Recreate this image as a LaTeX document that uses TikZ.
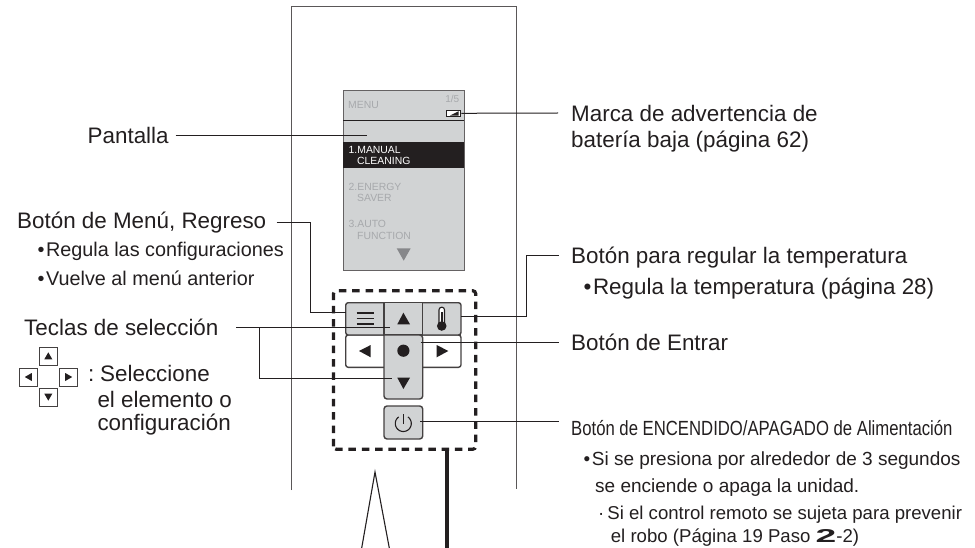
\documentclass[tikz,border=0pt]{standalone}
\usepackage{graphicx}
\usepackage{fontspec}
\setmainfont{Liberation Sans}
\definecolor{ink}{HTML}{231F20}
\definecolor{panel}{HTML}{D1D3D4}
\definecolor{lcdgrey}{HTML}{A7A9AC}
\tikzset{
 lead/.style={draw=ink,line width=1pt},
 outline/.style={draw=ink!75,line width=1pt},
 btn/.style={draw=ink!85,line width=1.4pt,fill=panel,rounded corners=2.5pt},
 lab/.style={anchor=west,inner sep=0pt,text=ink,font=\fontsize{22.4}{26}\selectfont,align=left},
 sub/.style={anchor=west,inner sep=0pt,text=ink,font=\fontsize{19.8}{24}\selectfont,align=left},
 sm/.style={anchor=west,inner sep=0pt,text=ink,font=\fontsize{18.6}{22}\selectfont,align=left},
 lcd/.style={anchor=west,inner sep=0pt,text=lcdgrey,font=\fontsize{10.4}{11.4}\selectfont,align=left},
 key/.style={draw=ink!85,line width=1pt,fill=white,minimum size=18pt,inner sep=0pt},
}
\begin{document}
\begin{tikzpicture}[x=1pt,y=-1pt]
\useasboundingbox (0,0) rectangle (975,548);
\fill[white] (0,0) rectangle (975,548);
% housing
\coordinate (hbl) at (291,490); \coordinate (htl) at (291,7); \coordinate (htr) at (516,7); \coordinate (hbr) at (516,489);
\draw[outline] (hbl) -- (htl) -- (htr) -- (hbr);
\coordinate (tl) at (361.7,548); \coordinate (ta) at (375,472); \coordinate (tr) at (389.3,548);
\draw[draw=ink,line width=1.1pt] (tl) -- (ta) -- (tr);
% LCD
\node[draw=ink!70,fill=panel,line width=0.9pt,minimum width=120.7pt,minimum height=180pt,inner sep=0pt,anchor=north west] (lcd) at (343.3,90.3) {};
\draw[ink,line width=0.9pt] (343.3,120.7) -- (464,120.7);
\fill[ink] (343.3,142) rectangle (464,168);
\node[lcd] (mn) at (348,105) {MENU};
\node[lcd,anchor=east,font=\fontsize{10}{10}\selectfont] (pg) at (459.5,99.3) {1/5};
\node[lcd,text=white] (m1) at (348.5,155.5) {1.MANUAL\\\hspace*{8.5pt}CLEANING};
\node[lcd] (m2) at (348.5,192.5) {2.ENERGY\\\hspace*{8.5pt}SAVER};
\node[lcd] (m3) at (348.5,230) {3.AUTO\\\hspace*{8.5pt}FUNCTION};
\fill[lcdgrey!80!black] (396.7,248.3) -- (410.7,248.3) -- (403.7,260.7) -- cycle;
\node[draw=ink,line width=1.1pt,fill=white,minimum width=14pt,minimum height=6.4pt,inner sep=0pt] (bat) at (453.7,113.3) {};
\fill[ink] (445.6,111.6) rectangle (447,115);
\fill[ink] (450,115.6) -- (458.6,115.6) -- (458.6,111.2) -- cycle;
% dashed box
\draw[ink,line width=3.2pt,dash pattern=on 7.5pt off 5.8pt,rounded corners=3pt] (333.5,449.3) -- (333.5,290.7) -- (475.7,290.7) -- (475.7,449.3) -- cycle;
\coordinate (cbtop) at (446.7,449.3); \coordinate (cbbot) at (446.7,548);
\draw[ink,line width=4.4pt] (cbtop) -- (cbbot);
% buttons
\path[btn,fill=white,draw] (345.7,335) -- (345.7,367.3) -- (461,367.3) -- (461,335) -- cycle;
\draw[btn] (345.7,335) -- (345.7,302.7) -- (461,302.7) -- (461,335) -- cycle;
\draw[btn,sharp corners] (384,302.7) rectangle (422.7,335);
\draw[btn,rounded corners=3pt] (384,335) -- (384,399) -- (422.7,399) -- (422.7,335) [sharp corners] -- cycle;
\draw[btn,rounded corners=3pt] (384,406) rectangle (422.7,439);
\foreach \yy in {312.7,318.4,324.3}{\draw[ink,line width=1.7pt] (356.7,\yy) -- (374,\yy);}
\fill[ink] (403.4,312.7) -- (397.3,324.3) -- (410,324.3) -- cycle;
\fill[ink] (359,351) -- (370.7,345) -- (370.7,357.3) -- cycle;
\fill[ink] (448.3,351) -- (436.7,345) -- (436.7,357.3) -- cycle;
\fill[ink] (403.4,350.7) circle (6.1);
\fill[ink] (403.4,389) -- (397.3,377.7) -- (410,377.7) -- cycle;
% thermometer
\draw[ink,line width=1.1pt,fill=white,rounded corners=2.6pt] (439,324) -- (439,307.2) -- (444.5,307.2) -- (444.5,324);
\fill[ink] (441.75,326) circle (4.8);
\fill[ink] (440.6,312) rectangle (442.9,323);
% power icon
\draw[ink,line width=1.1pt] plot[domain=35:325,samples=40] ({403.3+8*sin(\x)},{423.5-8*cos(\x)});
\draw[ink,line width=1.1pt] (403.3,414.3) -- (403.3,423.5);
% labels
\node[lab] (pan) at (87.5,135) {Pantalla};
\node[lab] (men) at (17,223) {Botón de Menú, Regreso};
\node[sub] (m1b) at (37.5,251.7) {•\hspace{1.5pt}Regula las configuraciones};
\node[sub] (m2b) at (37.5,278) {•\hspace{1.5pt}Vuelve al menú anterior};
\node[lab] (tec) at (24,327) {Teclas de selección};
\node[lab] (col) at (88,375.2) {:};
\node[lab] (sel) at (100,373) {Seleccione};
\node[lab] (sel2) at (97.3,399.5) {el elemento o};
\node[lab] (sel3) at (97.3,425) {configuración};
\node[lab] (mar) at (571,113) {Marca de advertencia de};
\node[lab] (mar2) at (571,141.7) {batería baja (página 62)};
\node[lab] (tem) at (571,258) {Botón para regular la temperatura};
\node[lab] (tem1) at (583.5,288.5) {•\hspace{1.5pt}Regula la temperatura (página 28)};
\node[lab] (ent) at (571,342.7) {Botón de Entrar};
\node[lab,font=\fontsize{20.5}{24}\selectfont] (enc) at (571,428) {\scalebox{.815}[1]{Botón de ENCENDIDO/APAGADO de Alimentación}};
\node[sub,font=\fontsize{19}{22}\selectfont] (b1) at (583.5,461) {•\hspace{1.5pt}Si se presiona por alrededor de 3 segundos};
\node[sub,font=\fontsize{19}{22}\selectfont] (b2) at (595,488) {se enciende o apaga la unidad.};
\node[sm] (b3) at (598,515) {·\hspace{3pt}Si el control remoto se sujeta para prevenir};
\node[sm] (b4) at (610.7,538) {el robo (Página 19 Paso \scalebox{2}[1]{\bfseries 2}-2)};
% keys
\node[key] (ku) at (48.3,356) {}; \node[key] (kl) at (28.5,377) {}; \node[key] (kr) at (68.5,377) {}; \node[key] (kd) at (48.3,397) {};
\fill[ink] (48.3,352.3) -- (44.3,359.3) -- (52.3,359.3) -- cycle;
\fill[ink] (48.3,400.7) -- (44.3,393.7) -- (52.3,393.7) -- cycle;
\fill[ink] (24.8,377) -- (31.8,373) -- (31.8,381) -- cycle;
\fill[ink] (72.2,377) -- (65.2,373) -- (65.2,381) -- cycle;
% leaders
\coordinate (lp) at (175.7,135.7); \coordinate (lpe) at (366.7,135.7);
\draw[lead] (lp) -- (lpe);
\draw[lead] (bat.east) -- (558,113);
\draw[lead] (276.7,222.7) -- (310.7,222.7) -- (310.7,312.3) -- (346,312.3);
\draw[lead] (236,327.3) -- (390,327.3);
\draw[lead] (259,327.3) -- (259,378.7) -- (391.7,378.7);
\draw[lead] (461,316.7) -- (526.7,316.7) -- (526.7,256) -- (558.7,256);
\draw[lead] (420.7,342.7) -- (558.7,342.7);
\draw[lead] (420,421.3) -- (558.5,421.3);
\end{tikzpicture}
\end{document}
